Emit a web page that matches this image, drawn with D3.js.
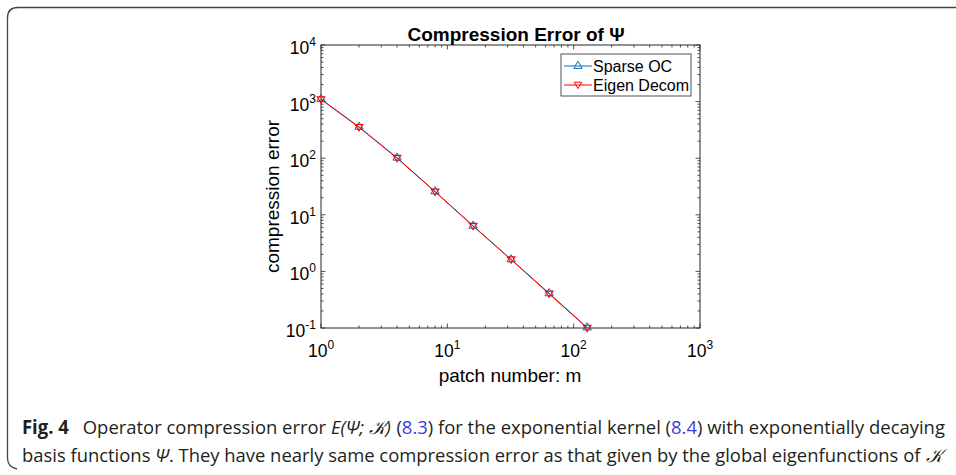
<!DOCTYPE html>
<html>
<head>
<meta charset="utf-8">
<script src="https://cdn.jsdelivr.net/npm/d3@7"></script>
<style>
  body { margin: 0; background: #fff; }
  svg { display: block; }
  .tick-label { font-family: "Liberation Sans", Arial, sans-serif; font-size: 17.5px; fill: #000; }
</style>
</head>
<body>
<svg id="fig" width="956" height="475"></svg>
<script>
const patches = [1, 2, 4, 8, 16, 32, 64, 128];
const sparseOC = [1110, 358, 102, 25.8, 6.4, 1.63, 0.41, 0.102];
const eigenDecom = [1090, 352, 100, 25.4, 6.3, 1.61, 0.40, 0.100];
const xTicks = [1, 10, 100, 1000];
const yTicks = [0.1, 1, 10, 100, 1000, 10000];
const seriesNames = ["Sparse OC", "Eigen Decom"];
const captionLines = [
  [["Fig. 4", "b"], ["\u2002 Operator compression error ", ""], ["E(Ψ; 𝒦)", "i"], [" (", ""], ["8.3", "l"],
   [") for the exponential kernel (", ""], ["8.4", "l"], [") with exponentially decaying", ""]],
  [["basis functions ", ""], ["Ψ", "i"],
   [". They have nearly same compression error as that given by the global eigenfunctions of ", ""], ["𝒦", "i"]]
];

const svg = d3.select("#fig");
const font = '"Liberation Sans", Arial, sans-serif';

// outer figure frame
svg.append("path")
  .attr("d", "M7.5,458 L7.5,18 Q7.5,7.5 18,7.5 L980,7.5")
  .attr("fill", "none").attr("stroke", "#444").attr("stroke-width", 1.3);
svg.append("path")
  .attr("d", "M7.5,458 Q7.5,467 17,469")
  .attr("fill", "none").attr("stroke", "#444").attr("stroke-width", 1.3);

const plot = { left: 321, right: 700, top: 45, bottom: 328 };

const x = d3.scaleLog().domain([1, 1000]).range([plot.left, plot.right]);
const y = d3.scaleLog().domain([0.1, 10000]).range([plot.bottom, plot.top]);

const g = svg.append("g");

// minor ticks
const minor = (lo, hi) => {
  const out = [];
  for (let e = lo; e < hi; e++) for (let k = 2; k <= 9; k++) out.push(k * Math.pow(10, e));
  return out;
};
const xMinor = minor(0, 3);
const yMinor = minor(-1, 4);

const tickStroke = "#262626";
function ticksX(data, len) {
  [[plot.bottom, -1], [plot.top, 1]].forEach(([y0, dir]) => {
    g.append("g").selectAll("line").data(data).join("line")
      .attr("x1", d => x(d)).attr("x2", d => x(d))
      .attr("y1", y0).attr("y2", y0 + dir * len)
      .attr("stroke", tickStroke).attr("stroke-width", 0.8);
  });
}
function ticksY(data, len) {
  [[plot.left, 1], [plot.right, -1]].forEach(([x0, dir]) => {
    g.append("g").selectAll("line").data(data).join("line")
      .attr("y1", d => y(d)).attr("y2", d => y(d))
      .attr("x1", x0).attr("x2", x0 + dir * len)
      .attr("stroke", tickStroke).attr("stroke-width", 0.8);
  });
}
ticksX(xMinor, 2.5);
ticksY(yMinor, 2.5);
ticksX(xTicks, 4.5);
ticksY(yTicks, 4.5);

// axes box
g.append("rect")
  .attr("x", plot.left).attr("y", plot.top)
  .attr("width", plot.right - plot.left).attr("height", plot.bottom - plot.top)
  .attr("fill", "none").attr("stroke", tickStroke).attr("stroke-width", 1);

// tick labels
const expo = d => Math.round(Math.log10(d));
const xl = g.selectAll("text.xl").data(xTicks).join("text")
  .attr("class", "tick-label")
  .attr("x", d => x(d)).attr("y", plot.bottom + 29)
  .attr("text-anchor", "middle");
xl.append("tspan").text("10");
xl.append("tspan").attr("dy", -8).attr("font-size", 12).text(d => expo(d));

const yl = g.selectAll("text.yl").data(yTicks).join("text")
  .attr("class", "tick-label")
  .attr("x", plot.left - 5).attr("y", d => y(d) + 9)
  .attr("text-anchor", "end");
yl.append("tspan").text("10");
yl.append("tspan").attr("dy", -8).attr("font-size", 12).text(d => expo(d));

// title & axis labels
svg.append("text")
  .attr("x", 516).attr("y", 41).attr("text-anchor", "middle")
  .attr("font-family", font).attr("font-size", 19).attr("font-weight", "bold")
  .text("Compression Error of Ψ");
svg.append("text")
  .attr("x", 510).attr("y", 382).attr("text-anchor", "middle")
  .attr("font-family", font).attr("font-size", 19)
  .text("patch number: m");
svg.append("text")
  .attr("transform", `translate(279,${(plot.top + plot.bottom) / 2 + 10}) rotate(-90)`)
  .attr("text-anchor", "middle")
  .attr("font-family", font).attr("font-size", 19)
  .text("compression error");

// series
const blue = "#0072BD", red = "#FF0000";
const line = d3.line().x(d => x(d[0])).y(d => y(d[1]));
const sparsePts = patches.map((m, i) => [m, sparseOC[i]]);
const eigenPts = patches.map((m, i) => [m, eigenDecom[i]]);

const triUp = d3.symbol().type(d3.symbolTriangle).size(30);
const triDown = "M0,3.6 L-3.8,-2.8 L3.8,-2.8 Z";

g.append("path").datum(sparsePts).attr("d", line)
  .attr("fill", "none").attr("stroke", blue).attr("stroke-width", 1);
g.selectAll("path.up").data(sparsePts).join("path")
  .attr("transform", d => `translate(${x(d[0])},${y(d[1])})`)
  .attr("d", triUp()).attr("fill", "none").attr("stroke", blue).attr("stroke-width", 1);
g.append("path").datum(eigenPts).attr("d", line)
  .attr("fill", "none").attr("stroke", red).attr("stroke-width", 1);
g.selectAll("path.down").data(eigenPts).join("path")
  .attr("transform", d => `translate(${x(d[0])},${y(d[1])})`)
  .attr("d", triDown).attr("fill", "none").attr("stroke", red).attr("stroke-width", 1.1);

// legend
const leg = svg.append("g");
leg.append("rect").attr("x", 561).attr("y", 54).attr("width", 130).attr("height", 42)
  .attr("fill", "#fff").attr("stroke", tickStroke).attr("stroke-width", 0.8);
const legRows = leg.selectAll("g.row").data(seriesNames).join("g")
  .attr("transform", (d, i) => `translate(564,${66 + i * 19})`);
legRows.append("line").attr("x1", 0).attr("x2", 28)
  .attr("stroke", (d, i) => i ? red : blue).attr("stroke-width", 1);
legRows.append("path")
  .attr("transform", "translate(14,0)")
  .attr("d", (d, i) => i ? triDown : triUp())
  .attr("fill", "none").attr("stroke", (d, i) => i ? red : blue).attr("stroke-width", 1);
legRows.append("text").attr("x", 29).attr("y", 6)
  .attr("font-family", font).attr("font-size", 16).text(d => d);

// caption: each run is its own text, then the line is squeezed to width
const capFont = '"Open Sans", "Noto Sans", sans-serif';
const capWidths = [923, 921];
captionLines.forEach((runs, li) => {
  const lineG = svg.append("g");
  const inner = lineG.append("g");
  let cx = 0;
  runs.forEach(([str, style]) => {
    const t = inner.append("text")
      .attr("x", cx).attr("y", 0)
      .attr("font-family", capFont).attr("font-size", 19)
      .attr("fill", style === "l" ? "#3a3adf" : "#231f20")
      .attr("font-weight", style === "b" ? "bold" : null)
      .attr("font-style", style === "i" ? "italic" : null)
      .attr("xml:space", "preserve")
      .style("white-space", "pre")
      .text(str);
    cx += t.node().getComputedTextLength();
  });
  const sx = capWidths[li] / cx;
  lineG.attr("transform", `translate(22,${434 + li * 28}) scale(${sx},1)`);
});
</script>
</body>
</html>
